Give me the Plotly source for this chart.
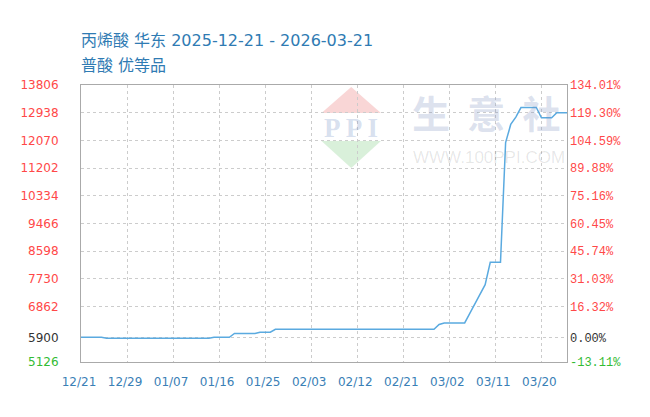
import plotly.graph_objects as go

# ---------------- data ----------------
x_tick_labels = ["12/21", "12/29", "01/07", "01/16", "01/25", "02/03",
                 "02/12", "02/21", "03/02", "03/11", "03/20"]
x_tick_pos = [0, 9, 18, 27, 36, 45, 54, 63, 72, 81, 90]

day_index = list(range(96))
price = [
    5900, 5900, 5900, 5900, 5900,
    5870, 5870, 5870, 5870, 5870, 5870, 5870, 5870, 5870, 5870,
    5870, 5870, 5870, 5870, 5870, 5870, 5870, 5870, 5870, 5870, 5870,
    5900, 5900, 5900, 5900,
    6020, 6020, 6020, 6020, 6020,
    6060, 6060, 6060,
    6150, 6150, 6150, 6150, 6150, 6150, 6150, 6150, 6150, 6150,
    6150, 6150, 6150, 6150, 6150, 6150, 6150, 6150, 6150, 6150,
    6150, 6150, 6150, 6150, 6150, 6150, 6150, 6150, 6150, 6150, 6150,
    6150, 6300,
    6350, 6350, 6350, 6350, 6350,
    6650, 6950, 7250, 7550,
    8250, 8250, 8250,
    12000, 12570, 12800,
    13100, 13100, 13100, 13100,
    12780, 12780, 12780,
    12940, 12940, 12940,
]

left_tick_vals = [5126, 5900, 6862, 7730, 8598, 9466, 10334, 11202, 12070, 12938, 13806]
left_tick_labels = ["5126", "5900", "6862", "7730", "8598", "9466", "10334",
                    "11202", "12070", "12938", "13806"]
right_tick_labels = ["-13.11%", "0.00%", "16.32%", "31.03%", "45.74%", "60.45%",
                     "75.16%", "89.88%", "104.59%", "119.30%", "134.01%"]
base_price = 5900

# ---------------- style ----------------
RED = "#ff4848"
GREEN = "#33bb33"
DARK = "#333333"
BLUE_TXT = "#2f7bb3"


def tick_color(v):
    if v > base_price:
        return RED
    if v < base_price:
        return GREEN
    return DARK


left_text = [f'<span style="color:{tick_color(v)}">{t}</span>'
             for v, t in zip(left_tick_vals, left_tick_labels)]
right_text = [f'<span style="color:{tick_color(v)}">{t}</span>'
              for v, t in zip(left_tick_vals, right_tick_labels)]

# page body has an 8px margin, so the figure is drawn 8px right / down
OFF = 8
W, H = 650 - OFF, 417 - OFF
# target plot box in screen pixels
SL, SR, ST, SB = 76, 567, 85, 362
L, R, T, B = SL - OFF, SR - OFF, ST - OFF, SB - OFF


def px(xs):
    return (xs - SL) / (SR - SL)


def py(ys):
    return (SB - ys) / (SB - ST)


fig = go.Figure()
fig.add_trace(go.Scatter(
    x=day_index, y=price, mode="lines",
    line=dict(color="#5aaae0", width=1.5),
    hoverinfo="skip", showlegend=False,
))
# invisible trace to activate right axis
fig.add_trace(go.Scatter(
    x=[day_index[0]], y=[price[0]], yaxis="y2", mode="markers",
    marker=dict(opacity=0), hoverinfo="skip", showlegend=False,
))

shapes = [
    # PPI logo diamond: top (red) and bottom (green)
    dict(type="path", xref="paper", yref="paper", layer="below",
         path=f"M {px(349)} {py(87)} L {px(379)} {py(113)} L {px(319)} {py(113)} Z",
         fillcolor="#f9d6d6", line=dict(width=0)),
    dict(type="path", xref="paper", yref="paper", layer="below",
         path=f"M {px(319)} {py(141)} L {px(379)} {py(141)} L {px(349)} {py(168)} Z",
         fillcolor="#d9f0da", line=dict(width=0)),
]

annotations = [
    dict(text="丙烯酸 华东 2025-12-21 - 2026-03-21", xref="paper", yref="paper",
         x=px(74), y=py(41), xanchor="left", yanchor="middle", showarrow=False,
         font=dict(family="DejaVu Sans, Noto Sans CJK SC", size=16, color=BLUE_TXT)),
    dict(text="普酸 优等品", xref="paper", yref="paper",
         x=px(74), y=py(66), xanchor="left", yanchor="middle", showarrow=False,
         font=dict(family="DejaVu Sans, Noto Sans CJK SC", size=16, color=BLUE_TXT)),
    # watermark
    dict(text="<b>P P I</b>", xref="paper", yref="paper",
         x=px(349), y=py(128), xanchor="center", yanchor="middle", showarrow=False,
         font=dict(family="Liberation Serif", size=27, color="rgba(120,150,200,0.3)")),
    dict(text="<b>生  意  社</b>", xref="paper", yref="paper",
         x=px(486), y=py(111), xanchor="center", yanchor="middle", showarrow=False,
         font=dict(family="Noto Sans CJK SC", size=38, color="rgba(120,140,190,0.25)")),
    dict(text="WWW.100PPI.COM", xref="paper", yref="paper",
         x=px(488), y=py(157), xanchor="center", yanchor="middle", showarrow=False,
         font=dict(family="Liberation Sans", size=17, color="rgba(0,0,0,0.1)")),
]

fig.update_layout(
    width=W, height=H,
    margin=dict(l=L, r=W - R, t=T, b=H - B, pad=0),
    paper_bgcolor="white", plot_bgcolor="white",
    showlegend=False,
    shapes=shapes, annotations=annotations,
    xaxis=dict(
        range=[0, 95], tickmode="array", tickvals=x_tick_pos, ticktext=x_tick_labels,
        showgrid=True, gridcolor="#cccccc", griddash="dot", gridwidth=1,
        showline=True, linecolor="#aaaaaa", linewidth=1, mirror=True,
        ticks="", zeroline=False, ticklabelstandoff=9, ticklabelshift=-2,
        tickfont=dict(family="DejaVu Sans", size=12, color="#3a80b6"),
        fixedrange=True,
    ),
    yaxis=dict(
        range=[5126, 13806], tickmode="array", tickvals=left_tick_vals, ticktext=left_text,
        showgrid=True, gridcolor="#cccccc", griddash="dot", gridwidth=1,
        showline=True, linecolor="#aaaaaa", linewidth=1, mirror=True,
        ticks="", zeroline=False, ticklabelstandoff=19,
        tickfont=dict(family="DejaVu Sans", size=12, color=DARK),
        fixedrange=True,
    ),
    yaxis2=dict(
        range=[5126, 13806], tickmode="array", tickvals=left_tick_vals, ticktext=right_text,
        overlaying="y", side="right", showgrid=False, zeroline=False,
        ticks="", ticklabelstandoff=2, showline=False,
        tickfont=dict(family="Liberation Mono", size=12, color=DARK),
        fixedrange=True,
    ),
)

fig.write_html("out.html")
